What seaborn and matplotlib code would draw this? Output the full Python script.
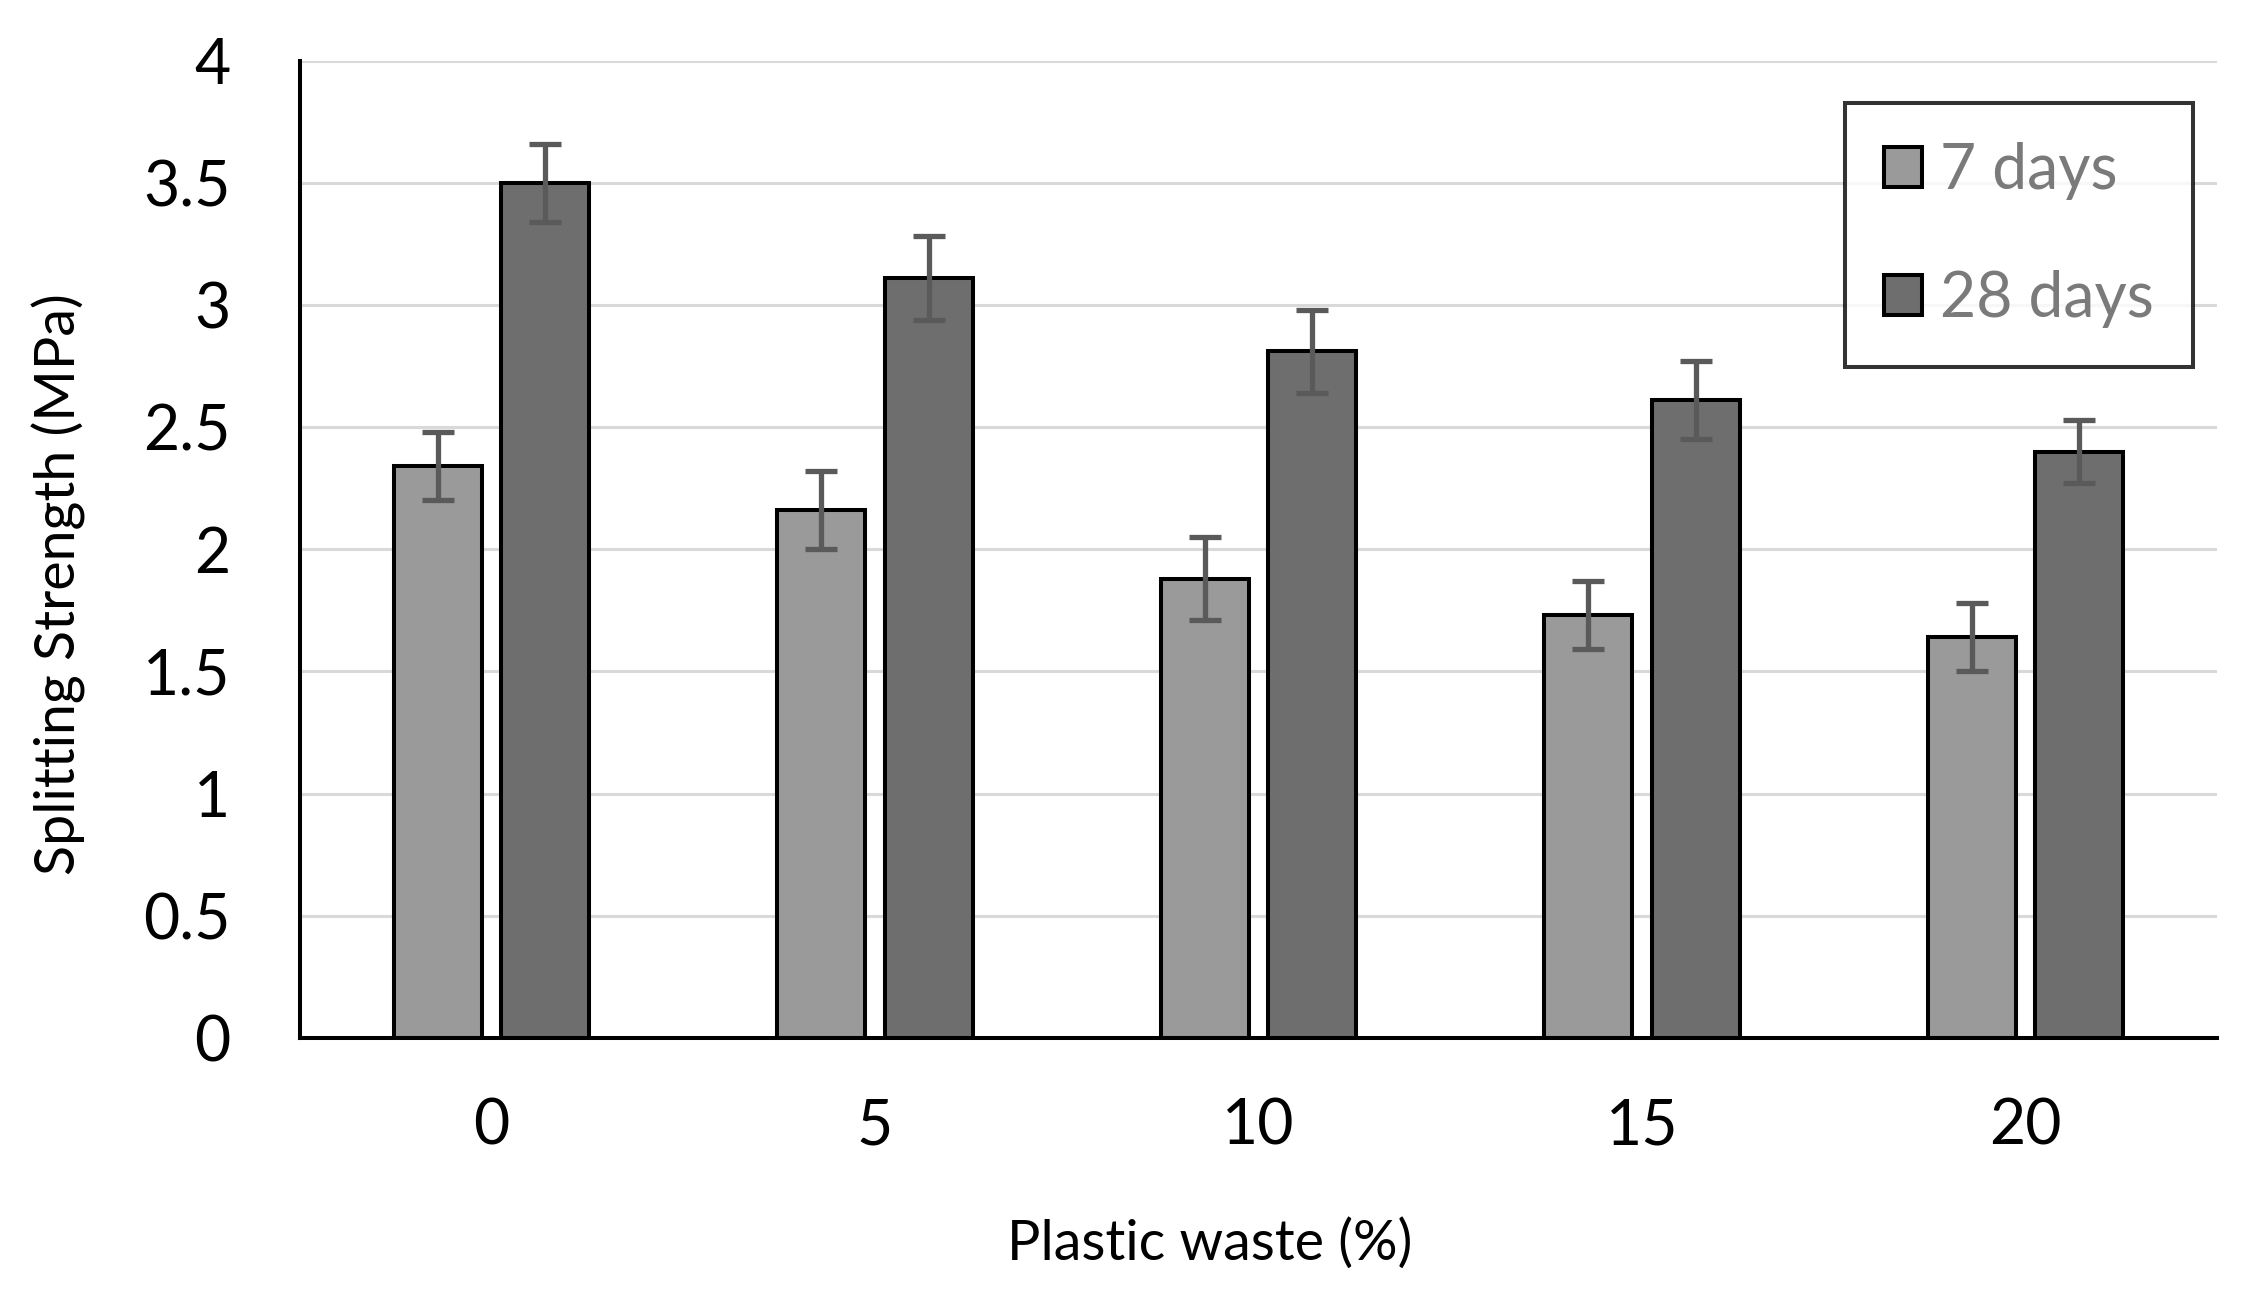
import matplotlib
matplotlib.use("Agg")
import matplotlib.pyplot as plt
import seaborn as sns
import pandas as pd
from matplotlib.patches import Patch

categories = ["0", "5", "10", "15", "20"]
series_names = ["7 days", "28 days"]
days7 = [2.34, 2.16, 1.88, 1.73, 1.64]
days28 = [3.50, 3.11, 2.81, 2.61, 2.40]
err7 = [0.14, 0.16, 0.17, 0.14, 0.14]
err28 = [0.16, 0.17, 0.17, 0.16, 0.13]
yticks = [0, 0.5, 1, 1.5, 2, 2.5, 3, 3.5, 4]
ytick_labels = ["0", "0.5", "1", "1.5", "2", "2.5", "3", "3.5", "4"]

colors = ["#9a9a9a", "#6e6e6e"]

df = pd.DataFrame({
    "waste": categories * 2,
    "strength": days7 + days28,
    "age": [series_names[0]] * 5 + [series_names[1]] * 5,
})

sns.set_theme(style="white")
plt.rcParams["font.family"] = ["Lato", "DejaVu Sans"]

fig = plt.figure(figsize=(22.6, 12.89), dpi=100)
ax = fig.add_axes([300 / 2260, 1 - 1038 / 1289, (2217 - 300) / 2260, (1038 - 60.5) / 1289])

sns.barplot(data=df, x="waste", y="strength", hue="age", order=categories,
            hue_order=series_names, palette=colors, width=0.56, gap=0.18,
            edgecolor="black", linewidth=2.9, errorbar=None, ax=ax, zorder=3)

for cont, errs in zip(ax.containers, [err7, err28]):
    xs = [b.get_x() + b.get_width() / 2 for b in cont]
    hs = [b.get_height() for b in cont]
    ax.errorbar(xs, hs, yerr=errs, fmt="none", ecolor="#5a5a5a", elinewidth=3.8,
                capsize=11.5, capthick=3.8, zorder=4)

ax.set_ylim(0, 4)
ax.set_xlim(-0.5, 4.5)
ax.set_yticks(yticks)
ax.set_yticklabels(ytick_labels)
ax.yaxis.grid(True, color="#d9d9d9", linewidth=2.2, zorder=0)
ax.xaxis.grid(False)
ax.set_axisbelow(True)
for s in ["top", "right"]:
    ax.spines[s].set_visible(False)
for s in ["left", "bottom"]:
    ax.spines[s].set_color("black")
    ax.spines[s].set_linewidth(2.9)
    ax.spines[s].set_zorder(5)
ax.tick_params(axis="both", length=0, labelsize=45, colors="black")
ax.tick_params(axis="y", pad=50)
ax.tick_params(axis="x", pad=43)

ax.set_xlabel("Plastic waste (%)", fontsize=40, color="black")
ax.set_ylabel("Splitting Strength (MPa)", fontsize=40, color="black")
ax.xaxis.set_label_coords(0.4747, -0.21)
ax.xaxis.label.set_va("center")
ax.yaxis.set_label_coords(-0.126, 0.464)
ax.yaxis.label.set_va("center")

handles = [Patch(facecolor=c, edgecolor="black", linewidth=2.9) for c in colors]
leg = ax.legend(handles, series_names, loc="upper right",
                bbox_to_anchor=(2193 / 2260, 1 - 103 / 1289), bbox_transform=fig.transFigure,
                borderaxespad=0, fontsize=45, frameon=True, fancybox=False,
                handlelength=0.6, handleheight=0.6, handletextpad=0.3,
                labelspacing=1.12, borderpad=0.62)
leg.get_frame().set_edgecolor("black")
leg.get_frame().set_linewidth(2.9)
for t in leg.get_texts():
    t.set_color("#7a7a7a")

fig.savefig("out.png", dpi=100, facecolor="white")
